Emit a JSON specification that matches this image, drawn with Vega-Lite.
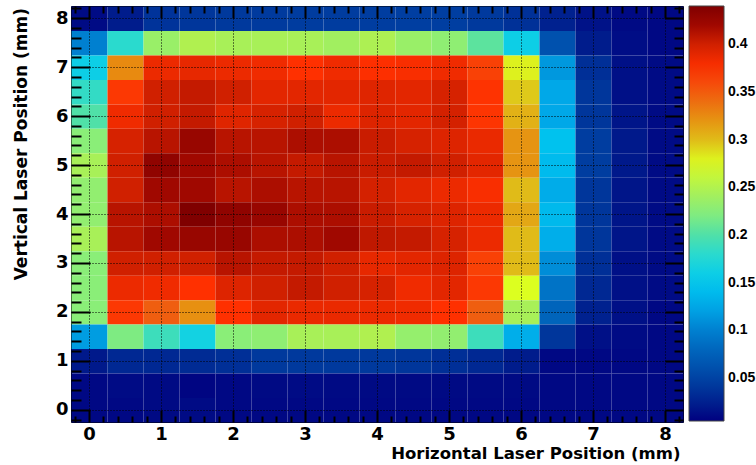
{
 "$schema": "https://vega.github.io/schema/vega-lite/v6.json",
 "width": 612, "height": 416,
 "autosize": {"type": "none"},
 "padding": {"left": 71, "top": 6, "right": 73, "bottom": 43},
 "background": "white",
 "config": {"view": {"stroke": "#000", "strokeWidth": 1}},
 "data": {"values": [
{"x":0,"y":8,"v":0.012},{"x":0.5,"y":8,"v":0.022},{"x":1,"y":8,"v":0.038},{"x":1.5,"y":8,"v":0.040},{"x":2,"y":8,"v":0.042},{"x":2.5,"y":8,"v":0.043},{"x":3,"y":8,"v":0.044},{"x":3.5,"y":8,"v":0.044},{"x":4,"y":8,"v":0.045},{"x":4.5,"y":8,"v":0.046},{"x":5,"y":8,"v":0.046},{"x":5.5,"y":8,"v":0.042},{"x":6,"y":8,"v":0.036},{"x":6.5,"y":8,"v":0.025},{"x":7,"y":8,"v":0.016},{"x":7.5,"y":8,"v":0.011},{"x":8,"y":8,"v":0.010},
{"x":0,"y":7.5,"v":0.100},{"x":0.5,"y":7.5,"v":0.180},{"x":1,"y":7.5,"v":0.235},{"x":1.5,"y":7.5,"v":0.250},{"x":2,"y":7.5,"v":0.245},{"x":2.5,"y":7.5,"v":0.245},{"x":3,"y":7.5,"v":0.245},{"x":3.5,"y":7.5,"v":0.240},{"x":4,"y":7.5,"v":0.248},{"x":4.5,"y":7.5,"v":0.235},{"x":5,"y":7.5,"v":0.228},{"x":5.5,"y":7.5,"v":0.205},{"x":6,"y":7.5,"v":0.160},{"x":6.5,"y":7.5,"v":0.062},{"x":7,"y":7.5,"v":0.022},{"x":7.5,"y":7.5,"v":0.013},{"x":8,"y":7.5,"v":0.010},
{"x":0,"y":7,"v":0.160},{"x":0.5,"y":7,"v":0.325},{"x":1,"y":7,"v":0.385},{"x":1.5,"y":7,"v":0.388},{"x":2,"y":7,"v":0.385},{"x":2.5,"y":7,"v":0.383},{"x":3,"y":7,"v":0.375},{"x":3.5,"y":7,"v":0.383},{"x":4,"y":7,"v":0.376},{"x":4.5,"y":7,"v":0.378},{"x":5,"y":7,"v":0.383},{"x":5.5,"y":7,"v":0.365},{"x":6,"y":7,"v":0.280},{"x":6.5,"y":7,"v":0.115},{"x":7,"y":7,"v":0.035},{"x":7.5,"y":7,"v":0.015},{"x":8,"y":7,"v":0.012},
{"x":0,"y":6.5,"v":0.185},{"x":0.5,"y":6.5,"v":0.370},{"x":1,"y":6.5,"v":0.400},{"x":1.5,"y":6.5,"v":0.405},{"x":2,"y":6.5,"v":0.400},{"x":2.5,"y":6.5,"v":0.390},{"x":3,"y":6.5,"v":0.390},{"x":3.5,"y":6.5,"v":0.390},{"x":4,"y":6.5,"v":0.392},{"x":4.5,"y":6.5,"v":0.390},{"x":5,"y":6.5,"v":0.397},{"x":5.5,"y":6.5,"v":0.373},{"x":6,"y":6.5,"v":0.295},{"x":6.5,"y":6.5,"v":0.125},{"x":7,"y":6.5,"v":0.040},{"x":7.5,"y":6.5,"v":0.015},{"x":8,"y":6.5,"v":0.012},
{"x":0,"y":6,"v":0.200},{"x":0.5,"y":6,"v":0.383},{"x":1,"y":6,"v":0.400},{"x":1.5,"y":6,"v":0.405},{"x":2,"y":6,"v":0.392},{"x":2.5,"y":6,"v":0.397},{"x":3,"y":6,"v":0.400},{"x":3.5,"y":6,"v":0.385},{"x":4,"y":6,"v":0.393},{"x":4.5,"y":6,"v":0.390},{"x":5,"y":6,"v":0.398},{"x":5.5,"y":6,"v":0.372},{"x":6,"y":6,"v":0.305},{"x":6.5,"y":6,"v":0.125},{"x":7,"y":6,"v":0.040},{"x":7.5,"y":6,"v":0.018},{"x":8,"y":6,"v":0.012},
{"x":0,"y":5.5,"v":0.225},{"x":0.5,"y":5.5,"v":0.397},{"x":1,"y":5.5,"v":0.410},{"x":1.5,"y":5.5,"v":0.425},{"x":2,"y":5.5,"v":0.410},{"x":2.5,"y":5.5,"v":0.410},{"x":3,"y":5.5,"v":0.415},{"x":3.5,"y":5.5,"v":0.415},{"x":4,"y":5.5,"v":0.403},{"x":4.5,"y":5.5,"v":0.397},{"x":5,"y":5.5,"v":0.393},{"x":5.5,"y":5.5,"v":0.386},{"x":6,"y":5.5,"v":0.320},{"x":6.5,"y":5.5,"v":0.145},{"x":7,"y":5.5,"v":0.045},{"x":7.5,"y":5.5,"v":0.020},{"x":8,"y":5.5,"v":0.012},
{"x":0,"y":5,"v":0.245},{"x":0.5,"y":5,"v":0.400},{"x":1,"y":5,"v":0.430},{"x":1.5,"y":5,"v":0.420},{"x":2,"y":5,"v":0.415},{"x":2.5,"y":5,"v":0.410},{"x":3,"y":5,"v":0.405},{"x":3.5,"y":5,"v":0.410},{"x":4,"y":5,"v":0.403},{"x":4.5,"y":5,"v":0.405},{"x":5,"y":5,"v":0.400},{"x":5.5,"y":5,"v":0.390},{"x":6,"y":5,"v":0.320},{"x":6.5,"y":5,"v":0.140},{"x":7,"y":5,"v":0.045},{"x":7.5,"y":5,"v":0.020},{"x":8,"y":5,"v":0.012},
{"x":0,"y":4.5,"v":0.230},{"x":0.5,"y":4.5,"v":0.400},{"x":1,"y":4.5,"v":0.420},{"x":1.5,"y":4.5,"v":0.420},{"x":2,"y":4.5,"v":0.410},{"x":2.5,"y":4.5,"v":0.415},{"x":3,"y":4.5,"v":0.410},{"x":3.5,"y":4.5,"v":0.410},{"x":4,"y":4.5,"v":0.398},{"x":4.5,"y":4.5,"v":0.390},{"x":5,"y":4.5,"v":0.385},{"x":5.5,"y":4.5,"v":0.378},{"x":6,"y":4.5,"v":0.300},{"x":6.5,"y":4.5,"v":0.128},{"x":7,"y":4.5,"v":0.040},{"x":7.5,"y":4.5,"v":0.018},{"x":8,"y":4.5,"v":0.012},
{"x":0,"y":4,"v":0.230},{"x":0.5,"y":4,"v":0.410},{"x":1,"y":4,"v":0.415},{"x":1.5,"y":4,"v":0.440},{"x":2,"y":4,"v":0.430},{"x":2.5,"y":4,"v":0.425},{"x":3,"y":4,"v":0.415},{"x":3.5,"y":4,"v":0.415},{"x":4,"y":4,"v":0.403},{"x":4.5,"y":4,"v":0.397},{"x":5,"y":4,"v":0.393},{"x":5.5,"y":4,"v":0.385},{"x":6,"y":4,"v":0.310},{"x":6.5,"y":4,"v":0.138},{"x":7,"y":4,"v":0.040},{"x":7.5,"y":4,"v":0.018},{"x":8,"y":4,"v":0.012},
{"x":0,"y":3.5,"v":0.245},{"x":0.5,"y":3.5,"v":0.410},{"x":1,"y":3.5,"v":0.420},{"x":1.5,"y":3.5,"v":0.425},{"x":2,"y":3.5,"v":0.425},{"x":2.5,"y":3.5,"v":0.415},{"x":3,"y":3.5,"v":0.415},{"x":3.5,"y":3.5,"v":0.420},{"x":4,"y":3.5,"v":0.407},{"x":4.5,"y":3.5,"v":0.405},{"x":5,"y":3.5,"v":0.397},{"x":5.5,"y":3.5,"v":0.385},{"x":6,"y":3.5,"v":0.300},{"x":6.5,"y":3.5,"v":0.130},{"x":7,"y":3.5,"v":0.040},{"x":7.5,"y":3.5,"v":0.018},{"x":8,"y":3.5,"v":0.012},
{"x":0,"y":3,"v":0.225},{"x":0.5,"y":3,"v":0.400},{"x":1,"y":3,"v":0.400},{"x":1.5,"y":3,"v":0.400},{"x":2,"y":3,"v":0.410},{"x":2.5,"y":3,"v":0.405},{"x":3,"y":3,"v":0.405},{"x":3.5,"y":3,"v":0.400},{"x":4,"y":3,"v":0.388},{"x":4.5,"y":3,"v":0.390},{"x":5,"y":3,"v":0.393},{"x":5.5,"y":3,"v":0.365},{"x":6,"y":3,"v":0.300},{"x":6.5,"y":3,"v":0.108},{"x":7,"y":3,"v":0.035},{"x":7.5,"y":3,"v":0.015},{"x":8,"y":3,"v":0.012},
{"x":0,"y":2.5,"v":0.225},{"x":0.5,"y":2.5,"v":0.385},{"x":1,"y":2.5,"v":0.383},{"x":1.5,"y":2.5,"v":0.375},{"x":2,"y":2.5,"v":0.393},{"x":2.5,"y":2.5,"v":0.400},{"x":3,"y":2.5,"v":0.405},{"x":3.5,"y":2.5,"v":0.400},{"x":4,"y":2.5,"v":0.397},{"x":4.5,"y":2.5,"v":0.383},{"x":5,"y":2.5,"v":0.390},{"x":5.5,"y":2.5,"v":0.370},{"x":6,"y":2.5,"v":0.275},{"x":6.5,"y":2.5,"v":0.090},{"x":7,"y":2.5,"v":0.030},{"x":7.5,"y":2.5,"v":0.015},{"x":8,"y":2.5,"v":0.012},
{"x":0,"y":2,"v":0.225},{"x":0.5,"y":2,"v":0.370},{"x":1,"y":2,"v":0.348},{"x":1.5,"y":2,"v":0.322},{"x":2,"y":2,"v":0.375},{"x":2.5,"y":2,"v":0.390},{"x":3,"y":2,"v":0.386},{"x":3.5,"y":2,"v":0.386},{"x":4,"y":2,"v":0.385},{"x":4.5,"y":2,"v":0.383},{"x":5,"y":2,"v":0.375},{"x":5.5,"y":2,"v":0.348},{"x":6,"y":2,"v":0.245},{"x":6.5,"y":2,"v":0.078},{"x":7,"y":2,"v":0.025},{"x":7.5,"y":2,"v":0.015},{"x":8,"y":2,"v":0.010},
{"x":0,"y":1.5,"v":0.118},{"x":0.5,"y":1.5,"v":0.220},{"x":1,"y":1.5,"v":0.190},{"x":1.5,"y":1.5,"v":0.165},{"x":2,"y":1.5,"v":0.225},{"x":2.5,"y":1.5,"v":0.228},{"x":3,"y":1.5,"v":0.245},{"x":3.5,"y":1.5,"v":0.245},{"x":4,"y":1.5,"v":0.250},{"x":4.5,"y":1.5,"v":0.232},{"x":5,"y":1.5,"v":0.230},{"x":5.5,"y":1.5,"v":0.190},{"x":6,"y":1.5,"v":0.130},{"x":6.5,"y":1.5,"v":0.040},{"x":7,"y":1.5,"v":0.015},{"x":7.5,"y":1.5,"v":0.012},{"x":8,"y":1.5,"v":0.010},
{"x":0,"y":1,"v":0.020},{"x":0.5,"y":1,"v":0.030},{"x":1,"y":1,"v":0.030},{"x":1.5,"y":1,"v":0.032},{"x":2,"y":1,"v":0.035},{"x":2.5,"y":1,"v":0.042},{"x":3,"y":1,"v":0.042},{"x":3.5,"y":1,"v":0.042},{"x":4,"y":1,"v":0.042},{"x":4.5,"y":1,"v":0.040},{"x":5,"y":1,"v":0.035},{"x":5.5,"y":1,"v":0.030},{"x":6,"y":1,"v":0.022},{"x":6.5,"y":1,"v":0.010},{"x":7,"y":1,"v":0.010},{"x":7.5,"y":1,"v":0.010},{"x":8,"y":1,"v":0.010},
{"x":0,"y":0.5,"v":0.010},{"x":0.5,"y":0.5,"v":0.012},{"x":1,"y":0.5,"v":0.011},{"x":1.5,"y":0.5,"v":0.008},{"x":2,"y":0.5,"v":0.010},{"x":2.5,"y":0.5,"v":0.011},{"x":3,"y":0.5,"v":0.012},{"x":3.5,"y":0.5,"v":0.011},{"x":4,"y":0.5,"v":0.011},{"x":4.5,"y":0.5,"v":0.011},{"x":5,"y":0.5,"v":0.011},{"x":5.5,"y":0.5,"v":0.011},{"x":6,"y":0.5,"v":0.011},{"x":6.5,"y":0.5,"v":0.010},{"x":7,"y":0.5,"v":0.010},{"x":7.5,"y":0.5,"v":0.010},{"x":8,"y":0.5,"v":0.010},
{"x":0,"y":0,"v":0.010},{"x":0.5,"y":0,"v":0.010},{"x":1,"y":0,"v":0.011},{"x":1.5,"y":0,"v":0.012},{"x":2,"y":0,"v":0.010},{"x":2.5,"y":0,"v":0.010},{"x":3,"y":0,"v":0.010},{"x":3.5,"y":0,"v":0.010},{"x":4,"y":0,"v":0.010},{"x":4.5,"y":0,"v":0.010},{"x":5,"y":0,"v":0.010},{"x":5.5,"y":0,"v":0.010},{"x":6,"y":0,"v":0.010},{"x":6.5,"y":0,"v":0.010},{"x":7,"y":0,"v":0.010},{"x":7.5,"y":0,"v":0.010},{"x":8,"y":0,"v":0.010}
 ]},
 "layer": [
  {
   "mark": {"type": "rect", "strokeWidth": 0, "binSpacing": 0},
   "encoding": {
    "x": {"field": "x", "type": "quantitative", "bin": {"step": 0.5, "extent": [-0.25, 8.25], "nice": false},
          "scale": {"domain": [-0.25, 8.25], "nice": false, "zero": false},
          "axis": {"orient": "bottom", "values": [0,1,2,3,4,5,6,7,8], "format": "d", "domain": false,
                   "ticks": true, "tickSize": 12, "offset": -12, "tickColor": "#000", "tickWidth": 2,
                   "grid": true, "gridColor": "#000", "gridDash": [1,2], "gridWidth": 1, "gridOpacity": 1,
                   "labelFont": "DejaVu Sans", "labelFontWeight": "bold", "labelFontSize": 18, "labelColor": "#000",
                   "labelPadding": 3, "labelFlush": false, "labelAngle": 0, "labelOverlap": false,
                   "title": "Horizontal Laser Position (mm)", "titleFont": "DejaVu Sans", "titleFontSize": 16.5,
                   "titleFontWeight": "bold", "titleColor": "#000", "titleAnchor": "end", "titleAlign": "right",
                   "titleX": 609, "titleY": 48, "titleBaseline": "alphabetic", "zindex": 1}},
    "y": {"field": "y", "type": "quantitative", "bin": {"step": 0.5, "extent": [-0.25, 8.25], "nice": false},
          "scale": {"domain": [-0.25, 8.25], "nice": false, "zero": false},
          "axis": {"orient": "left", "values": [0,1,2,3,4,5,6,7,8], "format": "d", "domain": false,
                   "ticks": true, "tickSize": 19, "offset": -19, "tickColor": "#000", "tickWidth": 2,
                   "grid": true, "gridColor": "#000", "gridDash": [1,2], "gridWidth": 1, "gridOpacity": 1,
                   "labelFont": "DejaVu Sans", "labelFontWeight": "bold", "labelFontSize": 18, "labelColor": "#000",
                   "labelPadding": 3, "labelFlush": false, "labelOverlap": false,
                   "title": "Vertical Laser Position (mm)", "titleFont": "DejaVu Sans", "titleFontSize": 17,
                   "titleFontWeight": "bold", "titleColor": "#000", "titleAnchor": "end", "titleAlign": "right",
                   "titleAngle": -90, "titleX": -64, "titleY": 1.5, "titleBaseline": "alphabetic", "zindex": 1}},
    "color": {"field": "v", "type": "quantitative",
              "scale": {"domain": [0.005,0.027,0.05,0.075,0.1,0.125,0.15,0.175,0.2,0.225,0.25,0.275,0.3,0.325,0.35,0.375,0.4,0.42,0.44],
                        "range": ["#000080","#002490","#0044a4","#0060b8","#0080d0","#00a8e8","#00c8f0","#20d8d8","#50e0a8","#8aee78","#b0f050","#dcff20","#e0bb18","#e88a10","#f05a10","#ff3000","#d02000","#a00800","#800000"],
                        "interpolate": "rgb", "clamp": true},
              "legend": {"type": "gradient", "title": null, "orient": "right", "offset": 5, "padding": 0, "direction": "vertical",
                         "gradientLength": 415, "gradientThickness": 35,
                         "values": [0.05,0.1,0.15,0.2,0.25,0.3,0.35,0.4], "format": "~g",
                         "labelFont": "Liberation Sans", "labelFontWeight": "bold", "labelFontSize": 14, "labelColor": "#000",
                         "labelOffset": 4, "labelOverlap": false,
                         "gradientStrokeColor": "#444", "gradientStrokeWidth": 1}}
   }
  },
  {
   "mark": {"type": "rect", "opacity": 0},
   "encoding": {
    "x": {"field": "x", "type": "quantitative", "bin": {"step": 0.5, "extent": [-0.25, 8.25], "nice": false},
          "scale": {"domain": [-0.25, 8.25], "nice": false, "zero": false},
          "axis": {"orient": "bottom", "values": [-0.2,0.2,0.4,0.6,0.8,1.2,1.4,1.6,1.8,2.2,2.4,2.6,2.8,3.2,3.4,3.6,3.8,4.2,4.4,4.6,4.8,5.2,5.4,5.6,5.8,6.2,6.4,6.6,6.8,7.2,7.4,7.6,7.8,8.2],
                   "labels": false, "grid": false, "domain": false,
                   "ticks": true, "tickSize": 6, "offset": -6, "tickColor": "#000", "tickWidth": 2, "title": null, "zindex": 1}},
    "y": {"field": "y", "type": "quantitative", "bin": {"step": 0.5, "extent": [-0.25, 8.25], "nice": false},
          "scale": {"domain": [-0.25, 8.25], "nice": false, "zero": false},
          "axis": {"orient": "left", "values": [-0.2,0.2,0.4,0.6,0.8,1.2,1.4,1.6,1.8,2.2,2.4,2.6,2.8,3.2,3.4,3.6,3.8,4.2,4.4,4.6,4.8,5.2,5.4,5.6,5.8,6.2,6.4,6.6,6.8,7.2,7.4,7.6,7.8,8.2],
                   "labels": false, "grid": false, "domain": false,
                   "ticks": true, "tickSize": 10, "offset": -10, "tickColor": "#000", "tickWidth": 2, "title": null, "zindex": 1}}
   }
  },
  {
   "mark": {"type": "rect", "opacity": 0},
   "encoding": {
    "x": {"field": "x", "type": "quantitative", "bin": {"step": 0.5, "extent": [-0.25, 8.25], "nice": false},
          "scale": {"domain": [-0.25, 8.25], "nice": false, "zero": false},
          "axis": {"orient": "top", "values": [0,1,2,3,4,5,6,7,8], "labels": false, "grid": false, "domain": false,
                   "ticks": true, "tickSize": 12, "offset": -12, "tickColor": "#000", "tickWidth": 2, "title": null, "zindex": 1}},
    "y": {"field": "y", "type": "quantitative", "bin": {"step": 0.5, "extent": [-0.25, 8.25], "nice": false},
          "scale": {"domain": [-0.25, 8.25], "nice": false, "zero": false},
          "axis": {"orient": "right", "values": [0,1,2,3,4,5,6,7,8], "labels": false, "grid": false, "domain": false,
                   "ticks": true, "tickSize": 18, "offset": -18, "tickColor": "#000", "tickWidth": 2, "title": null, "zindex": 1}}
   }
  },
  {
   "mark": {"type": "rect", "opacity": 0},
   "encoding": {
    "x": {"field": "x", "type": "quantitative", "bin": {"step": 0.5, "extent": [-0.25, 8.25], "nice": false},
          "scale": {"domain": [-0.25, 8.25], "nice": false, "zero": false},
          "axis": {"orient": "top", "values": [-0.2,0.2,0.4,0.6,0.8,1.2,1.4,1.6,1.8,2.2,2.4,2.6,2.8,3.2,3.4,3.6,3.8,4.2,4.4,4.6,4.8,5.2,5.4,5.6,5.8,6.2,6.4,6.6,6.8,7.2,7.4,7.6,7.8,8.2],
                   "labels": false, "grid": false, "domain": false,
                   "ticks": true, "tickSize": 7, "offset": -7, "tickColor": "#000", "tickWidth": 2, "title": null, "zindex": 1}},
    "y": {"field": "y", "type": "quantitative", "bin": {"step": 0.5, "extent": [-0.25, 8.25], "nice": false},
          "scale": {"domain": [-0.25, 8.25], "nice": false, "zero": false},
          "axis": {"orient": "right", "values": [-0.2,0.2,0.4,0.6,0.8,1.2,1.4,1.6,1.8,2.2,2.4,2.6,2.8,3.2,3.4,3.6,3.8,4.2,4.4,4.6,4.8,5.2,5.4,5.6,5.8,6.2,6.4,6.6,6.8,7.2,7.4,7.6,7.8,8.2],
                   "labels": false, "grid": false, "domain": false,
                   "ticks": true, "tickSize": 9, "offset": -9, "tickColor": "#000", "tickWidth": 2, "title": null, "zindex": 1}}
   }
  }
 ],
 "resolve": {"axis": {"x": "independent", "y": "independent"}}
}
